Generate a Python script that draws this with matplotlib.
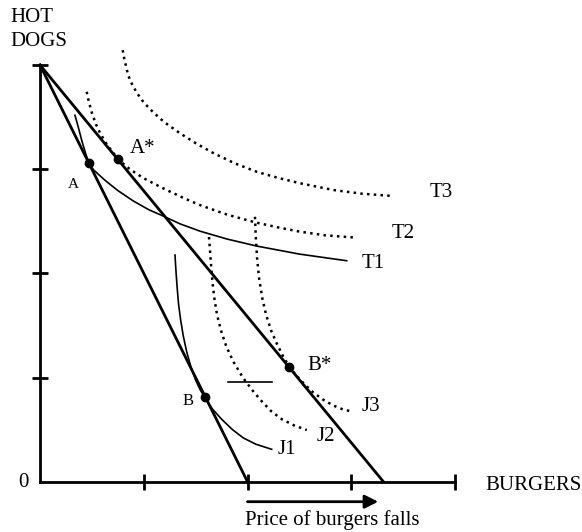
import matplotlib
matplotlib.use("Agg")
import matplotlib.pyplot as plt

plt.rcParams['font.family'] = ['Liberation Serif', 'DejaVu Serif']

# budget lines (hot dogs on y, burgers on x)
budget_old = ([0, 2.0], [4, 0])
budget_new = ([0, 3.31], [4, 0])

# T curves (upper group)
t1_x = [0.337, 0.370, 0.402, 0.440, 0.475, 0.520, 0.580, 0.643, 0.750, 0.899,
        1.050, 1.188, 1.350, 1.542, 1.800, 2.089, 2.500, 2.956]
t1_y = [3.517, 3.400, 3.277, 3.150, 3.046, 2.990, 2.935, 2.880, 2.795, 2.695,
        2.610, 2.550, 2.475, 2.405, 2.330, 2.262, 2.185, 2.121]
t2_x = [0.450, 0.470, 0.500, 0.540, 0.580, 0.630, 0.680, 0.720, 0.760, 0.800,
        0.860, 0.932, 1.020, 1.120, 1.221, 1.380, 1.542, 1.800, 2.072, 2.300,
        2.506, 2.750, 3.017]
t2_y = [3.743, 3.650, 3.540, 3.430, 3.345, 3.260, 3.190, 3.140, 3.095, 3.055,
        3.005, 2.955, 2.902, 2.850, 2.800, 2.725, 2.655, 2.565, 2.490, 2.440,
        2.400, 2.365, 2.345]
t3_x = [0.797, 0.810, 0.850, 0.890, 0.932, 1.000, 1.092, 1.200, 1.349, 1.500,
        1.670, 1.880, 2.089, 2.300, 2.506, 2.827, 3.100, 3.405]
t3_y = [4.143, 4.070, 3.900, 3.810, 3.735, 3.640, 3.545, 3.450, 3.345, 3.250,
        3.155, 3.055, 2.975, 2.915, 2.865, 2.800, 2.765, 2.742]

# J curves (lower group)
j1_x = [1.301, 1.312, 1.323, 1.336, 1.356, 1.381, 1.413, 1.455, 1.500, 1.545,
        1.592, 1.660, 1.750, 1.855, 1.960, 2.080, 2.233]
j1_y = [2.176, 2.000, 1.850, 1.700, 1.550, 1.400, 1.250, 1.100, 0.976, 0.880,
        0.805, 0.700, 0.600, 0.500, 0.420, 0.360, 0.311]
j2_x = [1.629, 1.640, 1.651, 1.664, 1.682, 1.707, 1.745, 1.795, 1.865, 1.955,
        2.045, 2.130, 2.225, 2.330, 2.450, 2.571]
j2_y = [2.349, 2.200, 2.050, 1.900, 1.750, 1.600, 1.450, 1.300, 1.150, 1.000,
        0.880, 0.780, 0.680, 0.600, 0.540, 0.496]
j3_x = [2.072, 2.080, 2.092, 2.112, 2.145, 2.180, 2.228, 2.285, 2.345, 2.405,
        2.470, 2.545, 2.630, 2.725, 2.830, 2.930, 3.020]
j3_y = [2.543, 2.350, 2.150, 1.950, 1.750, 1.600, 1.450, 1.320, 1.200, 1.100,
        1.020, 0.940, 0.860, 0.790, 0.730, 0.690, 0.672]

# small horizontal bar
bar_x = [1.815, 2.233]
bar_y = [0.954, 0.954]

# tangency points
points = {"A": (0.47, 3.06), "A*": (0.75, 3.10), "B": (1.595, 0.81), "B*": (2.40, 1.10)}

fig = plt.figure(figsize=(5.82, 5.32), dpi=100)
ax = fig.add_axes([40/582, 50.3/532, 415/582, 416.7/532])
ax.set_xlim(0, 4)
ax.set_ylim(0, 4)

for s in ['top', 'right']:
    ax.spines[s].set_visible(False)
for s in ['left', 'bottom']:
    ax.spines[s].set_linewidth(2)
ax.set_xticks([1, 2, 3, 4])
ax.set_yticks([1, 2, 3, 4])
ax.tick_params(direction='inout', length=12, width=2, labelbottom=False, labelleft=False)

ax.plot(*budget_old, color='black', lw=2, clip_on=False)
ax.plot(*budget_new, color='black', lw=2, clip_on=False)

dot = (0, (1, 1.7))
ax.plot(t1_x, t1_y, color='black', lw=1.2, clip_on=False)
ax.plot(t2_x, t2_y, color='black', lw=1.8, ls=dot, clip_on=False)
ax.plot(t3_x, t3_y, color='black', lw=1.8, ls=dot, clip_on=False)
ax.plot(j1_x, j1_y, color='black', lw=1.2, clip_on=False)
ax.plot(j2_x, j2_y, color='black', lw=1.8, ls=dot, clip_on=False)
ax.plot(j3_x, j3_y, color='black', lw=1.8, ls=dot, clip_on=False)
ax.plot(bar_x, bar_y, color='black', lw=1.2)

for name, (px, py) in points.items():
    ax.plot(px, py, 'o', color='black', ms=6, clip_on=False)

fs = 15
ax.text(3.759, 2.778, "T3", fontsize=fs, va='center', ha='left')
ax.text(3.390, 2.387, "T2", fontsize=fs, va='center', ha='left')
ax.text(3.101, 2.099, "T1", fontsize=fs, va='center', ha='left')
ax.text(3.101, 0.720, "J3", fontsize=fs, va='center', ha='left')
ax.text(2.667, 0.432, "J2", fontsize=fs, va='center', ha='left')
ax.text(2.287, 0.311, "J1", fontsize=fs, va='center', ha='left')
ax.text(2.580, 1.120, "B*", fontsize=fs, va='center', ha='left')
ax.text(1.375, 0.777, "B", fontsize=12, va='center', ha='left')
ax.text(0.867, 3.201, "A*", fontsize=fs, va='center', ha='left')
ax.text(0.273, 2.855, "A", fontsize=11, va='center', ha='left')
ax.text(-0.164, -0.012, "0", fontsize=fs, va='center', ha='center')
ax.text(4.289, -0.032, "BURGERS", fontsize=fs, va='center', ha='left', clip_on=False)
ax.text(-0.289, 4.340, "HOT\nDOGS", fontsize=fs, va='center', ha='left', linespacing=1.3)
ax.text(2.819, -0.367, "Price of burgers falls", fontsize=fs, va='center', ha='center')

ax.annotate('', xy=(3.26, -0.192), xytext=(2.0, -0.192),
            arrowprops=dict(arrowstyle='-|>', lw=2, color='black',
                            mutation_scale=20, shrinkA=0, shrinkB=0),
            annotation_clip=False)

fig.savefig("out.png", dpi=100)
